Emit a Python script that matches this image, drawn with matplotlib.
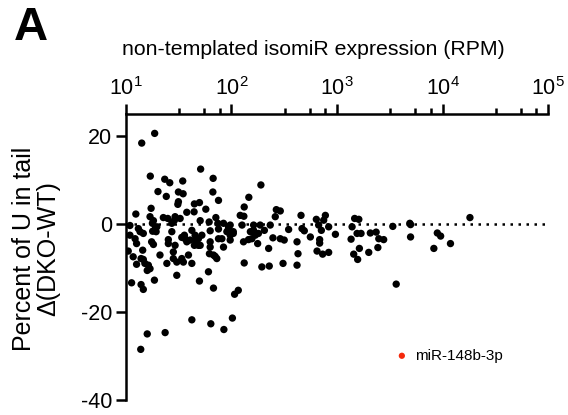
import numpy as np
import matplotlib
matplotlib.use("Agg")
import matplotlib.pyplot as plt
from matplotlib.ticker import LogLocator, NullFormatter

plt.rcParams['font.family'] = ['Liberation Sans', 'DejaVu Sans']
plt.rcParams['mathtext.default'] = 'regular'
plt.rcParams['axes.unicode_minus'] = False

# isomiR expression (RPM)
rpm = [18.7, 14.1, 51, 17.0, 23.3, 26.0, 34.5, 20.1, 24.1, 31.4,
       34.8, 31.4, 31.0, 44.5, 49.7, 17.3, 67, 66.6, 75.3, 57.1,
       190, 146, 132, 121, 131, 266, 260, 12.4, 16.9, 18.2,
       22.6, 24.9, 29.2, 32.6, 28.8, 37.7, 44.2, 50.5, 61.4, 71.1,
       74.3, 84.0, 10.9, 13.1, 19.1, 93.7, 17.8, 19.6, 27.2, 97.2,
       126, 162, 187, 233, 10.9, 12.2, 13.6, 14.6, 12.6, 17.5,
       18.2, 10.5, 14.4, 11.7, 12.6, 14.6, 15.1, 16.3, 16.9, 15.9,
       21.0, 24.4, 25.2, 25.2, 27.2, 29.2, 28.1, 28.1, 30.3, 33.8,
       35.0, 33.8, 36.3, 37.7, 40.5, 42.1, 39.1, 42.1, 45.2, 45.2,
       48.6, 48.6, 30.3, 11.3, 13.9, 14.6, 18.6, 49.7, 60.5, 62.8,
       62.8, 62.8, 61.8, 67.5, 72.6, 67.5, 75.3, 81.1, 84.0, 90.4,
       97.2, 97.2, 104, 132, 130, 151, 156, 168, 180, 177,
       205, 225, 247, 194, 228, 116, 107, 102, 42.1, 63.7,
       84.7, 23.5, 15.9, 13.8, 308, 418, 290, 456, 637, 776,
       748, 1470, 1610, 4900, 18200, 3380, 348, 466, 490, 670,
       711, 834, 966, 1390, 1550, 1690, 2070, 2350, 4980, 4980,
       2490, 2770, 2440, 2000, 1630, 1440, 1570, 1360, 834, 731,
       647, 685, 685, 559, 418, 427, 290, 316, 3640, 8930,
       9600, 8280, 11900, 52.4, 50.5, 75.3, 93.7, 104, 145, 162,
       70, 17.9, 19.3, 13.9, 35.8, 44.5]

# percent of U in tail, DKO minus WT
delta_u = [20.6, 18.4, 12.5, 10.9, 10.2, 9.4, 9.8, 7.4, 6.3, 7.3,
           6.9, 5.1, 4.5, 4.6, 4.9, 3.6, 10.4, 7.3, 5.4, 3.4,
           8.9, 6.1, 3.9, 2.0, 1.8, 3.3, 1.7, 2.3, 1.7, 0.8,
           1.5, 1.3, 1.7, 1.3, 0.9, 2.7, 2.8, 0.8, 0.5, 1.5,
           0.2, 0.2, -0.3, -1.0, -0.7, -0.5, 0.2, -0.6, 0.2, -0.2,
           -0.2, -0.2, -0.2, -0.2, -2.5, -3.3, -1.7, -2.1, -4.4, -4.0,
           -4.6, -6.1, -5.9, -7.4, -9.1, -8.0, -8.9, -9.3, -10.1, -10.5,
           -7.0, -8.9, -3.5, -4.4, -1.7, -4.8, -6.3, -7.8, -8.6, -7.8,
           -8.6, -3.0, -3.3, -4.0, -3.6, -1.4, -7.0, -8.9, -2.5, -3.6,
           -3.3, -4.8, -11.6, -13.3, -13.7, -14.8, -12.7, -12.9, -10.8, -1.5,
           -4.0, -5.2, -6.7, -7.0, -7.8, -14.5, -3.3, -3.3, -5.2, -1.7,
           -2.5, -3.6, -1.7, -8.8, -4.0, -1.7, -3.3, -2.5, -2.1, -4.4,
           -1.4, -5.5, -3.1, -9.7, -9.5, -15.0, -15.9, -21.3, -21.7, -22.6,
           -23.9, -24.6, -24.9, -28.4, -8.9, -9.3, 3.0, 2.0, 1.1, 2.0,
           0.9, 1.3, 1.1, 0.2, 1.5, -0.5, -1.2, -1.0, -1.5, -0.2,
           -1.4, -0.6, -2.3, -0.6, -2.1, -2.1, -2.0, -1.8, -0.1, -2.9,
           -3.3, -3.5, -5.3, -6.4, -5.5, -6.8, -8.0, -3.4, -6.4, -6.8,
           -6.1, -3.5, -4.3, -2.9, -4.0, -6.7, -3.3, -3.6, -13.6, -2.0,
           -2.7, -5.5, -4.4, -2.5, -4.8, -1.1, -1.0, -2.1, -3.5, -1.4,
           -7.3, -1.6, -1.7, -7.8, -2.5, -4.8]

highlight_name = 'miR-148b-3p'

fig = plt.figure(figsize=(5.68, 4.15), dpi=100)
ax = fig.add_axes([0.2218, 0.035, 0.743, 0.6903])

ax.axhline(0, color='black', linestyle=(0, (1, 2.2)), linewidth=1.8, zorder=1)
ax.scatter(rpm, delta_u, s=28, color='black', edgecolors='none', zorder=3)
ax.scatter([], [], s=28, color='#f5290c', edgecolors='none', label=highlight_name)

ax.set_xscale('log')
ax.set_xlim(10, 1e5)
ax.set_ylim(-40, 25)

ax.xaxis.tick_top()
ax.xaxis.set_label_position('top')
ax.xaxis.set_major_locator(LogLocator(base=10, numticks=10))
ax.xaxis.set_minor_locator(LogLocator(base=10, subs=[3.2, 5.5, 7.75], numticks=10))
ax.xaxis.set_minor_formatter(NullFormatter())
ax.set_yticks([-40, -20, 0, 20])

for side in ['right', 'bottom']:
    ax.spines[side].set_visible(False)
for side in ['left', 'top']:
    ax.spines[side].set_linewidth(1.8)

ax.tick_params(axis='both', which='major', direction='out', length=7, width=1.8,
               labelsize=15.5, pad=3)
ax.tick_params(axis='x', which='minor', direction='out', length=4, width=1.8)

ax.set_xlabel('non-templated isomiR expression (RPM)', fontsize=15.3)
ax.xaxis.set_label_coords(0.443, 1.205)
ax.set_ylabel('Percent of U in tail\n\u0394(DKO-WT)', fontsize=18, linespacing=1.0)
ax.yaxis.set_label_coords(-0.156, 0.529)

ax.legend(loc='center left', bbox_to_anchor=(0.603, 0.156), frameon=False,
          fontsize=11, handlelength=1.0, handletextpad=0.37, markerscale=0.85)

fig.text(0.025, 0.985, 'A', fontsize=34, fontweight='bold', va='top', ha='left')

fig.savefig('out.png', dpi=100)
